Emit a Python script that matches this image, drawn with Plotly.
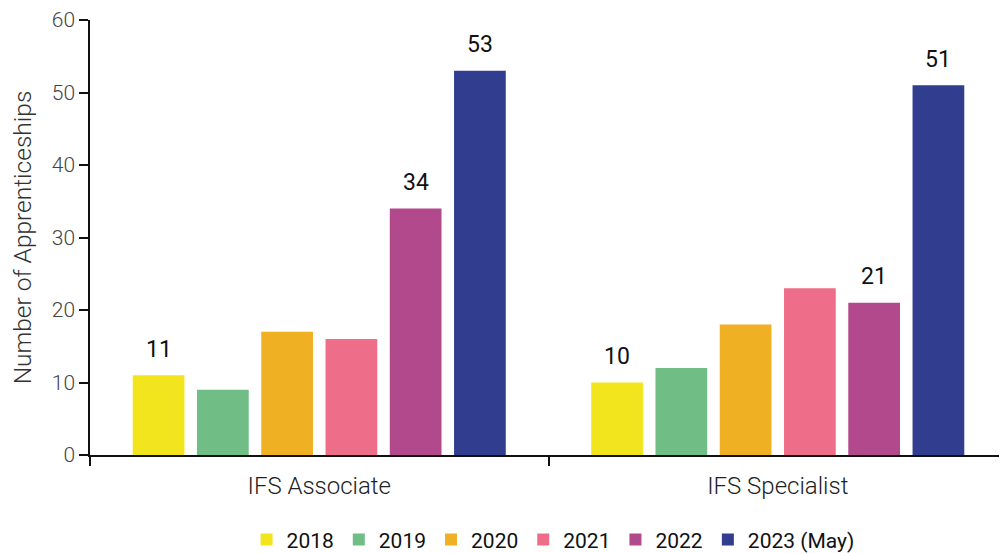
import plotly.graph_objects as go

categories = ["IFS Associate", "IFS Specialist"]
years = ["2018", "2019", "2020", "2021", "2022", "2023 (May)"]
values_2018 = [11, 10]
values_2019 = [9, 12]
values_2020 = [17, 18]
values_2021 = [16, 23]
values_2022 = [34, 21]
values_2023 = [53, 51]
series = [values_2018, values_2019, values_2020, values_2021, values_2022, values_2023]
colors = ["#F2E51E", "#70BE86", "#F0B023", "#EE6E8A", "#B3498D", "#313D8F"]
labelled = {"2018", "2022", "2023 (May)"}

# page body has an 8px default margin, so the figure is sized to fill the rest
W, H = 999, 545
ML, MR, MT, MB = 82, 0, 12, 98
BARGAP, BARGROUPGAP = 0.159, 0.195

fig = go.Figure()
for name, vals, col in zip(years, series, colors):
    fig.add_trace(go.Bar(
        name=name, x=categories, y=vals, marker=dict(color=col, line=dict(width=0)),
        hoverinfo="x+y+name",
    ))

# value labels above selected bars
plot_w = W - ML - MR
cat_w = plot_w / len(categories)
slot = cat_w * (1 - BARGAP) / len(years)
annotations = []
for i, (name, vals) in enumerate(zip(years, series)):
    if name not in labelled:
        continue
    for c, v in zip(categories, vals):
        annotations.append(dict(
            x=c, y=v, xref="x", yref="y", text=str(v), showarrow=False,
            xshift=(i - (len(years) - 1) / 2) * slot, yshift=26, yanchor="middle",
            font=dict(family="Roboto", size=23, color="#111111"),
        ))

fig.update_layout(
    width=W, height=H,
    margin=dict(l=ML, r=MR, t=MT, b=MB, autoexpand=False),
    paper_bgcolor="white", plot_bgcolor="white",
    barmode="group", bargap=BARGAP, bargroupgap=BARGROUPGAP,
    annotations=annotations,
    showlegend=True,
    legend=dict(orientation="h", x=0.505, xanchor="center", y=-0.195, yanchor="middle",
                font=dict(family="Roboto", size=21, color="#111111"),
                itemwidth=30, traceorder="normal"),
    font=dict(family="Roboto"),
)
fig.update_xaxes(
    automargin=False,
    showline=True, linecolor="#111111", linewidth=2,
    ticks="outside", tickson="boundaries", ticklen=9, tickcolor="#111111", tickwidth=2,
    ticklabelstandoff=8,
    tickfont=dict(family="Roboto", size=24, color="#222222", weight=300),
    showgrid=False, zeroline=False,
)
fig.update_yaxes(
    automargin=False,
    range=[0, 60], dtick=10, showline=True, linecolor="#111111", linewidth=1.5,
    ticks="outside", ticklen=9, tickcolor="#111111", tickwidth=1.5,
    tickfont=dict(family="Roboto", size=21, color="#444444", weight=300),
    title=dict(text="Number of Apprenticeships", standoff=14,
               font=dict(family="Roboto", size=24.5, color="#333333", weight=300)),
    showgrid=False, zeroline=False,
)
fig.write_html("out.html")
